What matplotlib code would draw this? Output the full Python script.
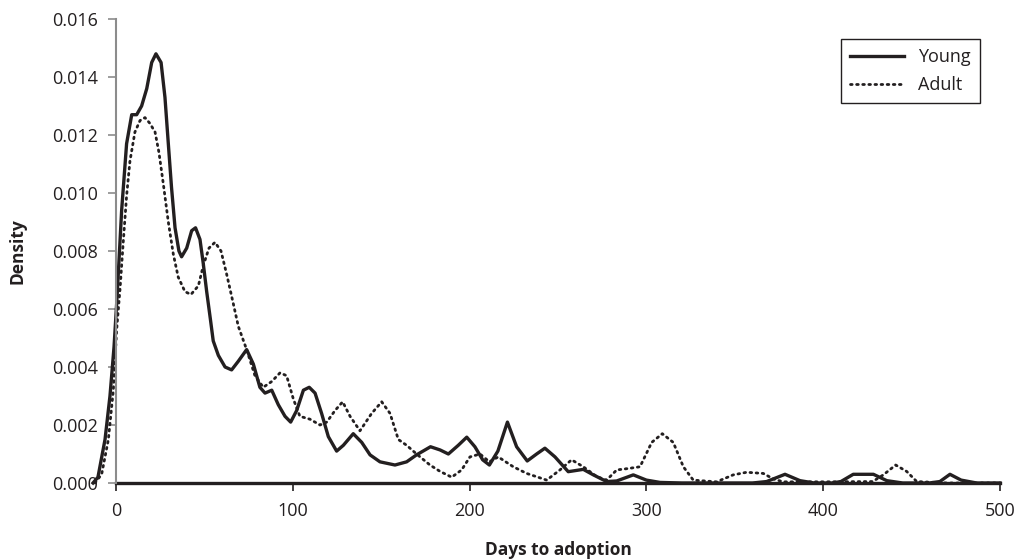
import numpy as np
import matplotlib.pyplot as plt

plt.rcParams['font.family'] = ['Open Sans', 'DejaVu Sans']

# density curves (days, density)
young_days = [-13, -10.2, -6.2, -3.4, -1.1, 0.6, 3.2, 6, 8.9, 11.7, 14.5, 17.4, 20.2, 22.6,
              25.5, 27.7, 29.6, 31.4, 33.4, 35.6, 37.1, 40, 42.8, 45, 47.5, 49.3, 51.3, 53.5,
              55, 57.9, 61.7, 65.4, 69.2, 73.9, 77.7, 81.4, 84.3, 88.1, 91.8, 95.6, 98.8,
              102.2, 106, 109.3, 112.6, 116.3, 120.1, 124.8, 128.6, 134.2, 139, 143.7, 149.3,
              157.8, 164.4, 170, 177.9, 183.3, 188, 193.6, 198.4, 203, 207.4, 211.2, 216,
              221.4, 226.6, 232.6, 237.9, 242.6, 248.3, 255.8, 264.3, 270, 277.5, 283.2,
              292.6, 300, 307.7, 320, 360, 368, 378.4, 386.9, 395, 405, 410, 417, 428.4,
              436, 445, 460, 466, 471.7, 478, 486.8, 500]
young_dens = [0.0, 0.0002, 0.0015, 0.003, 0.0047, 0.0064, 0.0094, 0.0117, 0.0127, 0.0127,
              0.0130, 0.0136, 0.0145, 0.0148, 0.0145, 0.0133, 0.0117, 0.0102, 0.0088, 0.0080,
              0.0078, 0.0081, 0.0087, 0.0088, 0.0084, 0.0076, 0.0066, 0.0056, 0.0049, 0.0044,
              0.0040, 0.0039, 0.0042, 0.0046, 0.0041, 0.0033, 0.0031, 0.0032, 0.0027, 0.0023,
              0.0021, 0.0025, 0.0032, 0.0033, 0.0031, 0.0024, 0.0016, 0.0011, 0.0013, 0.0017,
              0.0014, 0.00097, 0.00073, 0.00062, 0.00073, 0.00097, 0.00125, 0.00114, 0.0010,
              0.0013, 0.00158, 0.00125, 0.0008, 0.00062, 0.0011, 0.0021, 0.00125, 0.00076,
              0.0010, 0.0012, 0.0009, 0.00039, 0.00047, 0.00028, 0.00005, 0.00007, 0.00028,
              0.0001, 0.00002, 0.0, 0.0, 0.00005, 0.0003, 0.00008, 0.0, 0.0, 0.00005, 0.0003,
              0.0003, 0.00008, 0.0, 0.0, 0.00005, 0.0003, 0.0001, 0.0, 0.0]

adult_days = [-11.9, -8.1, -4.3, -1.5, 0.4, 2.3, 4.1, 6, 7.9, 10.7, 13.6, 16.4, 19.2, 22.1,
              24.3, 26.8, 29.6, 32.4, 35.2, 39, 42.4, 46.6, 49.4, 52.6, 56, 59.4, 62.6, 66.3,
              69.2, 73.9, 78.6, 83.3, 88.1, 92.8, 96.5, 100.3, 104, 109.7, 115.4, 119.2, 123.9,
              128.2, 132.4, 138, 144.6, 150.3, 155, 159.7, 164.4, 170, 177.6, 183.3, 189.9,
              195.5, 200.2, 205.9, 211.2, 216.2, 224.7, 232.3, 243.6, 251.1, 257.7, 264.3,
              271.9, 277.5, 283.2, 289.8, 296.4, 303, 309, 315.2, 320.9, 326.5, 339.7, 349.1,
              356.7, 366.1, 371.8, 377.4, 400, 428, 434, 441, 447.2, 452.9, 470, 500]
adult_dens = [0.0, 0.0003, 0.0015, 0.0032, 0.0053, 0.0067, 0.0083, 0.0099, 0.0111, 0.0121,
              0.0125, 0.0126, 0.0124, 0.0121, 0.0114, 0.0103, 0.0090, 0.0079, 0.0071, 0.0066,
              0.0065, 0.0068, 0.0075, 0.0081, 0.0083, 0.0080, 0.0072, 0.0062, 0.0054, 0.0046,
              0.0037, 0.0033, 0.0035, 0.0038, 0.0037, 0.0029, 0.0023, 0.0022, 0.0020, 0.0021,
              0.0025, 0.0028, 0.0023, 0.0018, 0.0024, 0.0028, 0.0024, 0.0015, 0.0013, 0.0010,
              0.00062, 0.0004, 0.0002, 0.00045, 0.0009, 0.0010, 0.00073, 0.0009, 0.00056,
              0.00033, 0.0001, 0.00045, 0.0008, 0.00056, 0.00022, 0.0001, 0.00045, 0.0005,
              0.00056, 0.0014, 0.0017, 0.0014, 0.00056, 0.0001, 0.00004, 0.00028, 0.00037,
              0.00033, 0.00014, 0.00004, 0.00004, 0.00005, 0.00028, 0.00062, 0.0004, 0.00005,
              0.0, 0.0]

x_ticks = [0, 100, 200, 300, 400, 500]
y_ticks = [0.000, 0.002, 0.004, 0.006, 0.008, 0.010, 0.012, 0.014, 0.016]

fig = plt.figure(figsize=(10.23, 5.59), dpi=100)
ax = fig.add_axes([93 / 1023, 76 / 559, 907 / 1023, 464 / 559])

ink = '#231f20'
ax.plot(young_days, young_dens, color=ink, lw=2.4, label='Young', clip_on=False,
        solid_joinstyle='round')
ax.plot(adult_days, adult_dens, color=ink, lw=2.0, linestyle=(0, (0.6, 1.6)),
        dash_capstyle='round', dash_joinstyle='round', label='Adult', clip_on=False)

ax.set_xlim(-13, 500)
ax.set_ylim(0, 0.016)
ax.set_xticks(x_ticks)
ax.set_yticks(y_ticks)
ax.set_yticklabels([f'{v:.3f}' for v in y_ticks])

for s in ['top', 'right']:
    ax.spines[s].set_visible(False)
ax.spines['left'].set_position(('data', 0))
ax.spines['left'].set_color('#8c8c8c')
ax.spines['left'].set_linewidth(1.5)
ax.spines['bottom'].set_color(ink)
ax.spines['bottom'].set_linewidth(2.4)
ax.spines['bottom'].set_bounds(0, 500)
ax.spines['bottom'].set_zorder(1)

ax.tick_params(axis='y', direction='out', length=6, width=1.2, color='#8c8c8c',
               labelsize=13, labelcolor=ink, pad=7)
ax.tick_params(axis='x', direction='out', length=6, width=1.2, color=ink,
               labelsize=13, labelcolor=ink, pad=8)

ax.set_xlabel('Days to adoption', fontsize=12.5, fontweight='bold', color=ink)
ax.xaxis.set_label_coords((558 - 93) / 907, -0.125)
ax.set_ylabel('Density', fontsize=12.5, fontweight='bold', color=ink)
ax.yaxis.set_label_coords(-(93 - 27) / 907, 0.5)

leg = ax.legend(loc='upper right', bbox_to_anchor=(980 / 1023, (559 - 39) / 559),
                bbox_transform=fig.transFigure, fontsize=13, handlelength=3.0,
                borderpad=0.5, labelspacing=0.55, borderaxespad=0, fancybox=False,
                framealpha=1, edgecolor=ink)
leg.get_frame().set_linewidth(1.0)
for t in leg.get_texts():
    t.set_color(ink)

fig.savefig('out.png', dpi=100)
